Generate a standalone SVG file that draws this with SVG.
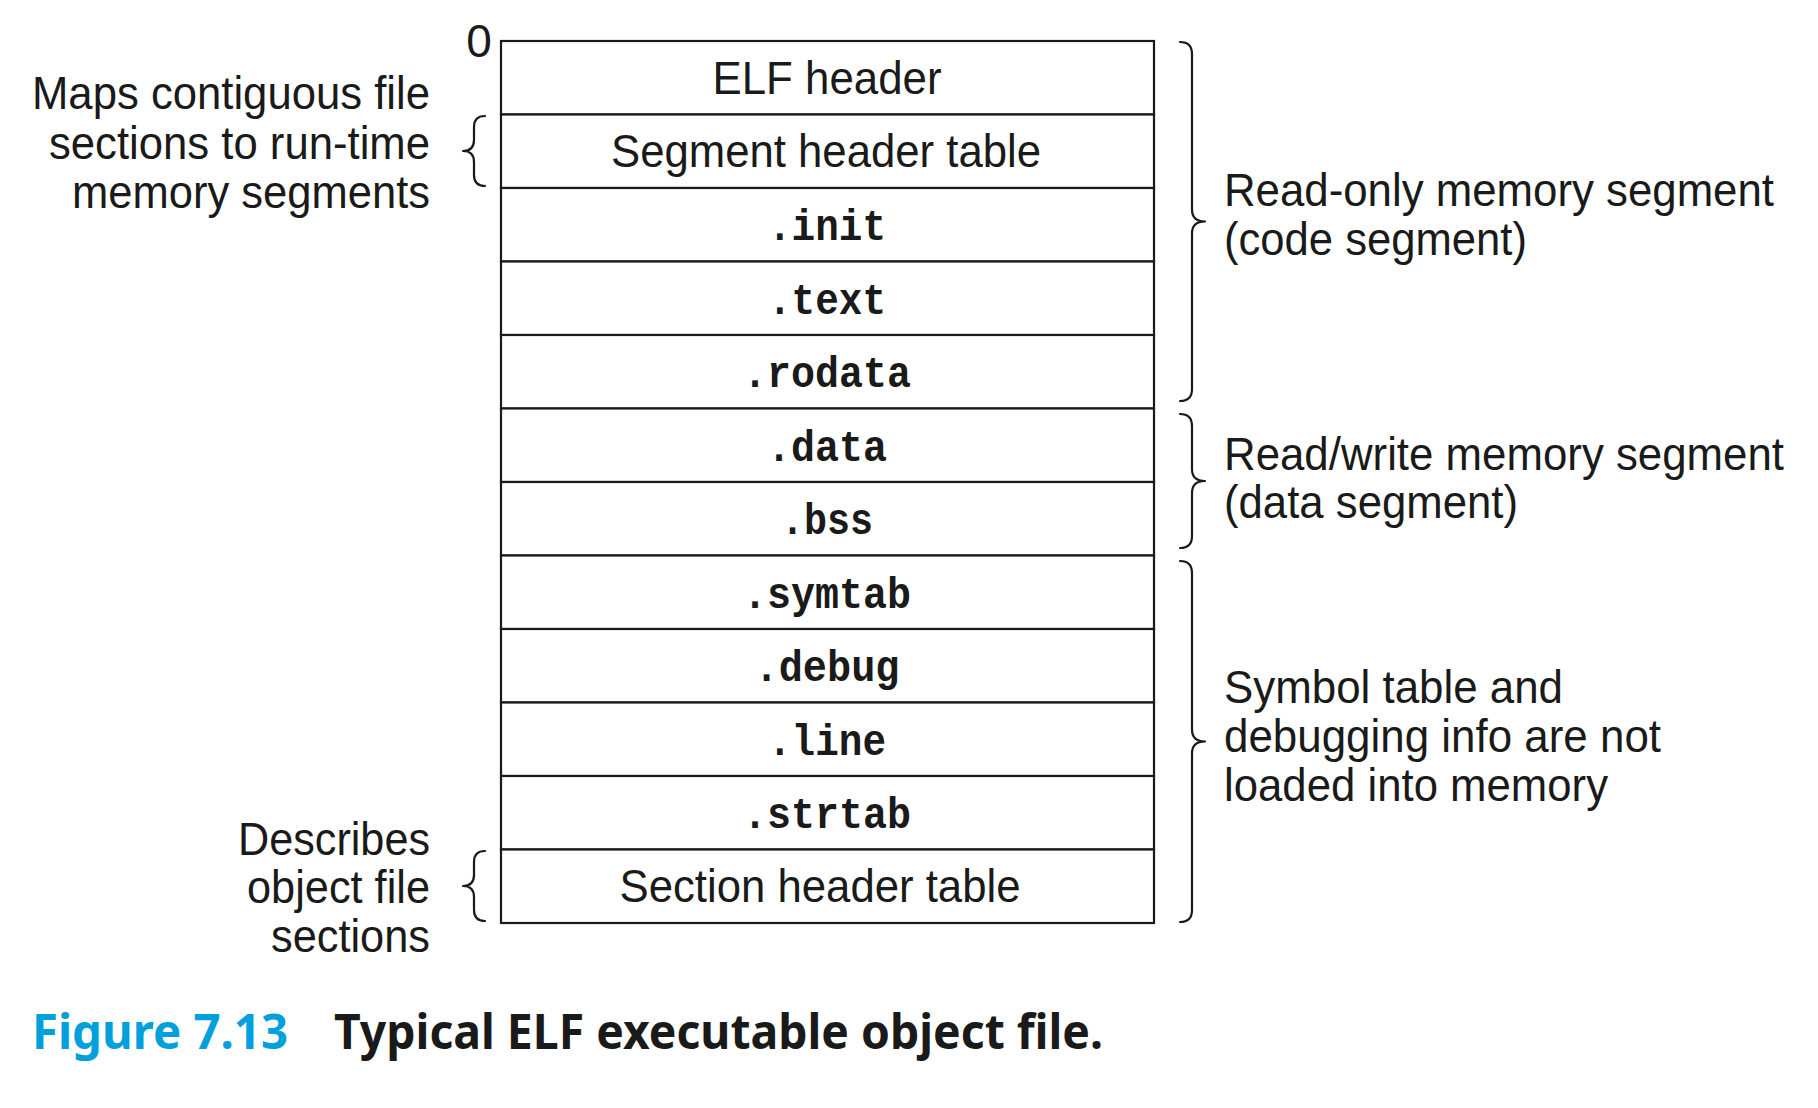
<svg xmlns="http://www.w3.org/2000/svg" width="1818" height="1108" viewBox="0 0 1818 1108">
<style>
.bg{fill:#ffffff}
.row{fill:#ffffff;stroke:#1a1a1a;stroke-width:2.2}
.sans{font-family:"Liberation Sans",Arial,sans-serif;font-size:46px;fill:#1a1a1a}
.mono{font-family:"Liberation Mono","Courier New",monospace;font-size:44px;font-weight:bold;fill:#1a1a1a;text-anchor:middle}
.mid{text-anchor:middle}
.end{text-anchor:end}
.brace{fill:none;stroke:#1a1a1a;stroke-width:2.2;stroke-linecap:round;stroke-linejoin:round}
.cap{font-family:"Noto Sans","Open Sans",sans-serif;font-size:48px;font-weight:bold}
</style>
<rect class="bg" x="0" y="0" width="1818" height="1108"/>
<text class="sans mid" x="479" y="57">0</text>
<g id="elf-header"><rect class="row" x="501" y="41" width="653" height="73.5"/><text class="sans mid" x="827" y="94" textLength="229" lengthAdjust="spacingAndGlyphs">ELF header</text></g>
<g id="segment-header-table"><rect class="row" x="501" y="114.5" width="653" height="73.5"/><text class="sans mid" x="826" y="167" textLength="430" lengthAdjust="spacingAndGlyphs">Segment header table</text></g>
<g id="init"><rect class="row" x="501" y="188" width="653" height="73.5"/><text class="mono" x="827" y="240" textLength="118" lengthAdjust="spacingAndGlyphs">.init</text></g>
<g id="text"><rect class="row" x="501" y="261.5" width="653" height="73.5"/><text class="mono" x="827" y="313.5" textLength="118" lengthAdjust="spacingAndGlyphs">.text</text></g>
<g id="rodata"><rect class="row" x="501" y="335" width="653" height="73.5"/><text class="mono" x="827" y="387" textLength="168" lengthAdjust="spacingAndGlyphs">.rodata</text></g>
<g id="data"><rect class="row" x="501" y="408.5" width="653" height="73.5"/><text class="mono" x="827" y="460.5" textLength="120" lengthAdjust="spacingAndGlyphs">.data</text></g>
<g id="bss"><rect class="row" x="501" y="482" width="653" height="73.5"/><text class="mono" x="827" y="534" textLength="92" lengthAdjust="spacingAndGlyphs">.bss</text></g>
<g id="symtab"><rect class="row" x="501" y="555.5" width="653" height="73.5"/><text class="mono" x="827" y="607.5" textLength="168" lengthAdjust="spacingAndGlyphs">.symtab</text></g>
<g id="debug"><rect class="row" x="501" y="629" width="653" height="73.5"/><text class="mono" x="827" y="681" textLength="145" lengthAdjust="spacingAndGlyphs">.debug</text></g>
<g id="line"><rect class="row" x="501" y="702.5" width="653" height="73.5"/><text class="mono" x="827" y="754.5" textLength="118" lengthAdjust="spacingAndGlyphs">.line</text></g>
<g id="strtab"><rect class="row" x="501" y="776" width="653" height="73.5"/><text class="mono" x="827" y="828" textLength="168" lengthAdjust="spacingAndGlyphs">.strtab</text></g>
<g id="section-header-table"><rect class="row" x="501" y="849.5" width="653" height="73.5"/><text class="sans mid" x="820" y="902" textLength="401" lengthAdjust="spacingAndGlyphs">Section header table</text></g>
<g id="label-maps">
<text class="sans end" x="430" y="109" textLength="398" lengthAdjust="spacingAndGlyphs">Maps contiguous file</text>
<text class="sans end" x="430" y="159" textLength="381" lengthAdjust="spacingAndGlyphs">sections to run-time</text>
<text class="sans end" x="430" y="207.5" textLength="358" lengthAdjust="spacingAndGlyphs">memory segments</text>
</g>
<g id="label-describes">
<text class="sans end" x="430" y="854.5" textLength="192" lengthAdjust="spacingAndGlyphs">Describes</text>
<text class="sans end" x="430" y="903" textLength="183" lengthAdjust="spacingAndGlyphs">object file</text>
<text class="sans end" x="430" y="952" textLength="159" lengthAdjust="spacingAndGlyphs">sections</text>
</g>
<g id="label-readonly">
<text class="sans" x="1224" y="206" textLength="550" lengthAdjust="spacingAndGlyphs">Read-only memory segment</text>
<text class="sans" x="1224" y="255" textLength="303" lengthAdjust="spacingAndGlyphs">(code segment)</text>
</g>
<g id="label-readwrite">
<text class="sans" x="1224" y="469.5" textLength="560" lengthAdjust="spacingAndGlyphs">Read/write memory segment</text>
<text class="sans" x="1224" y="518" textLength="294" lengthAdjust="spacingAndGlyphs">(data segment)</text>
</g>
<g id="label-symbol">
<text class="sans" x="1224" y="702.5" textLength="339" lengthAdjust="spacingAndGlyphs">Symbol table and</text>
<text class="sans" x="1224" y="752" textLength="437" lengthAdjust="spacingAndGlyphs">debugging info are not</text>
<text class="sans" x="1224" y="801" textLength="384" lengthAdjust="spacingAndGlyphs">loaded into memory</text>
</g>
<g id="connectors">
<path class="brace" d="M485,116 Q474,116 474,127 L474,140 Q474,151 463,151 Q474,151 474,162 L474,175 Q474,186 485,186"/>
<path class="brace" d="M485,851 Q474,851 474,862 L474,875 Q474,886 463,886 Q474,886 474,897 L474,910 Q474,921 485,921"/>
<path class="brace" d="M1180,42 Q1192,42 1192,54 L1192,209.5 Q1192,221.5 1205,221.5 Q1192,221.5 1192,233.5 L1192,389 Q1192,401 1180,401"/>
<path class="brace" d="M1180,414 Q1192,414 1192,426 L1192,469 Q1192,481 1205,481 Q1192,481 1192,493 L1192,536 Q1192,548 1180,548"/>
<path class="brace" d="M1180,561 Q1192,561 1192,573 L1192,729.5 Q1192,741.5 1205,741.5 Q1192,741.5 1192,753.5 L1192,910 Q1192,922 1180,922"/>
</g>
<g id="caption">
<text class="cap" x="32" y="1049" fill="#00a0dc" textLength="256" lengthAdjust="spacingAndGlyphs">Figure 7.13</text>
<text class="cap" x="334" y="1049" fill="#1a1a1a" textLength="769" lengthAdjust="spacingAndGlyphs">Typical ELF executable object file.</text>
</g>
</svg>
